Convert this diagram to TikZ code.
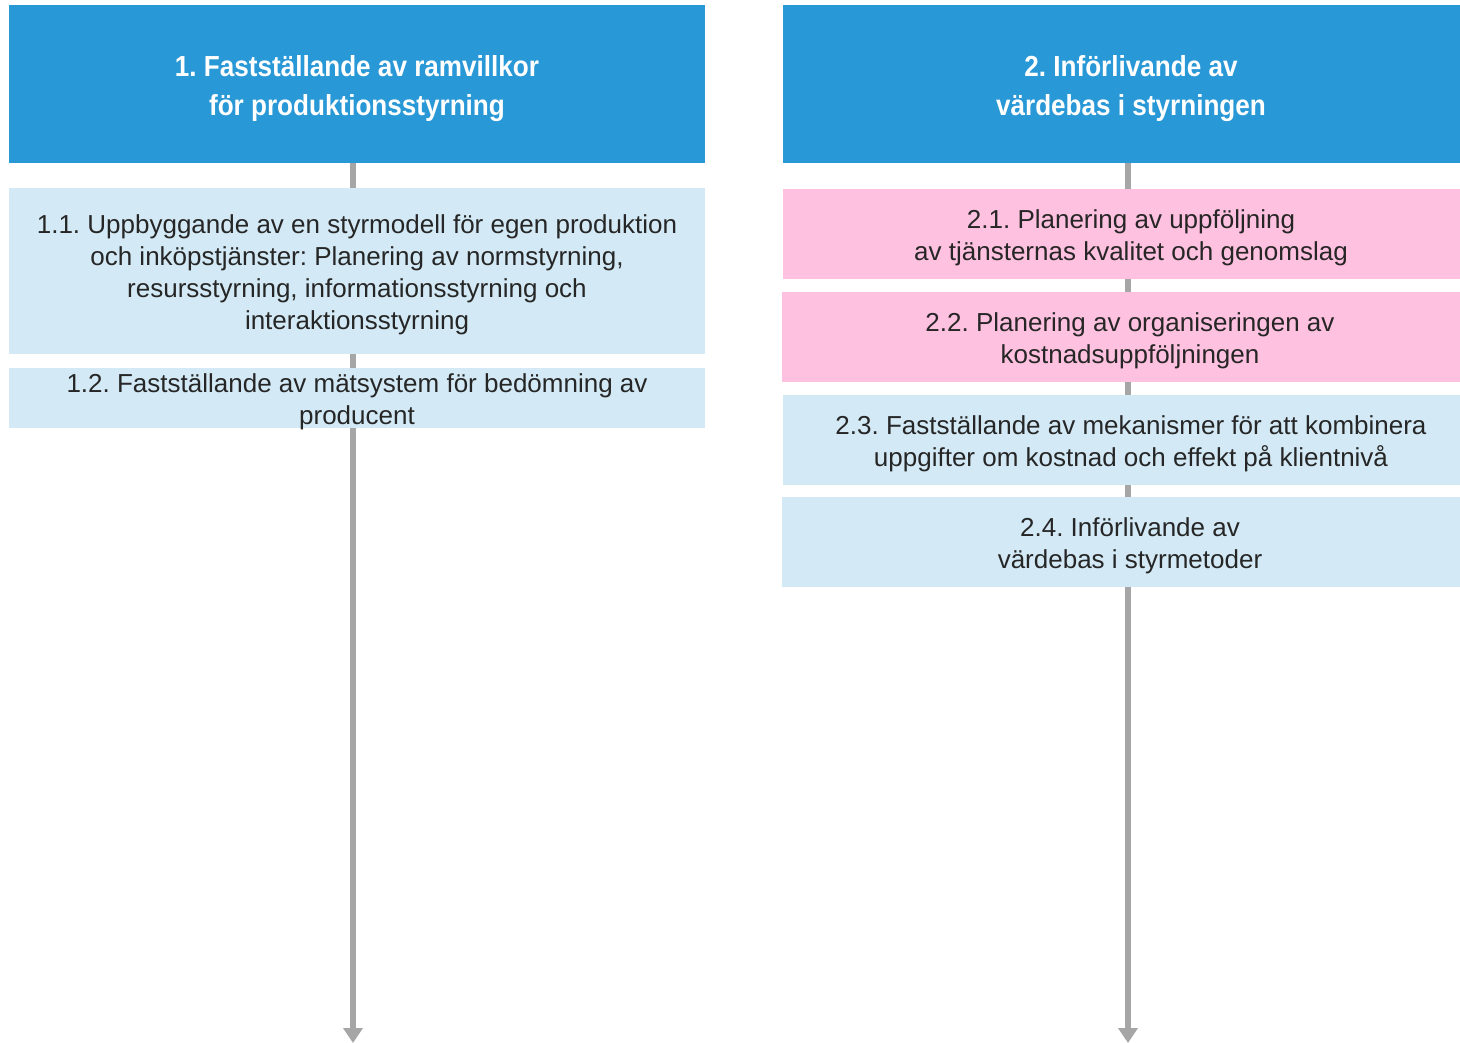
\documentclass[tikz,border=0pt]{standalone}
\usepackage{fontspec}
\setmainfont{Liberation Sans}
\newfontfamily\headfont{Liberation Sans}[FakeStretch=0.9]
\usetikzlibrary{arrows.meta,positioning,backgrounds}
\frenchspacing
% centred block of lines, set a little lower in its box
\newcommand{\boxtext}[1]{\raisebox{-4pt}[\dimexpr\height-2pt\relax][\dimexpr\depth-2pt\relax]{%
    \begin{tabular}{@{}c@{}}#1\end{tabular}}}

\begin{document}
\begin{tikzpicture}[x=1pt,y=-1pt,
    head/.style={fill=headblue, text=white, inner sep=0pt,
        minimum width=696pt, minimum height=158pt,
        font=\headfont\bfseries\fontsize{29}{39}\selectfont},
    task/.style={fill=taskblue, text=textgray, inner sep=0pt,
        minimum width=696pt, minimum height=90pt,
        font=\fontsize{26}{32}\selectfont},
    pinktask/.style={task, fill=taskpink},
    axis/.style={draw=axisgray, line width=6pt, -{Triangle[width=19pt,length=15pt]}}]
    % Define colors
    \definecolor{headblue}{RGB}{41,152,214}
    \definecolor{taskblue}{RGB}{211,234,246}
    \definecolor{taskpink}{RGB}{255,193,224}
    \definecolor{axisgray}{RGB}{166,166,166}
    \definecolor{textgray}{RGB}{38,38,38}

    \useasboundingbox (0,0) rectangle (1460,1043);

    % Column 1
    \node[head] (h1) at (357,84)
        {\boxtext{1. Fastställande av ramvillkor\\för produktionsstyrning}};
    \node[task, minimum height=166pt] (t11) at (357,271)
        {\boxtext{1.1. Uppbyggande av en styrmodell för egen produktion\\
         och inköpstjänster: Planering av normstyrning,\\
         resursstyrning, informationsstyrning och\\
         interaktionsstyrning}};
    \node[task, minimum height=60pt] (t12) at (357,398)
        {\boxtext{1.2. Fastställande av mätsystem för bedömning av\\producent}};

    % Column 2 (cut off at the right edge)
    \node[head] (h2) at (1131,84)
        {\boxtext{2. Införlivande av\\värdebas i styrningen}};
    \node[pinktask] (t21) at (1131,234)
        {\boxtext{2.1. Planering av uppföljning\\av tjänsternas kvalitet och genomslag}};
    \node[pinktask] (t22) at (1130,337)
        {\boxtext{2.2. Planering av organiseringen av\\kostnadsuppföljningen}};
    \node[task] (t23) at (1131,440)
        {\boxtext{2.3. Fastställande av mekanismer för att kombinera\\
         uppgifter om kostnad och effekt på klientnivå}};
    \node[task] (t24) at (1130,542)
        {\boxtext{2.4. Införlivande av\\värdebas i styrmetoder}};

    % Time axes behind the boxes
    \coordinate (end1) at (353,1043);
    \coordinate (end2) at (1128,1043);
    \begin{pgfonlayer}{background}
        \draw[axis] (h1.south -| end1) -- (end1);
        \draw[axis] (h2.south -| end2) -- (end2);
    \end{pgfonlayer}
\end{tikzpicture}
\end{document}
